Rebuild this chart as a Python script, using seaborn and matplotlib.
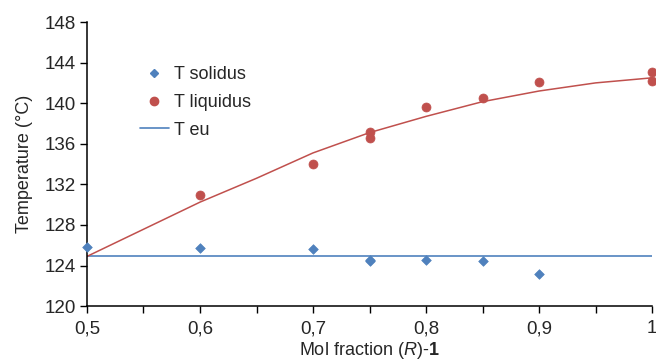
"""
Binary phase diagram: solidus / liquidus temperatures vs mol fraction.
Run: python plot.py
"""

import numpy as np
import pandas as pd
import matplotlib
matplotlib.use("Agg")
import matplotlib.pyplot as plt
from matplotlib.ticker import MultipleLocator, FuncFormatter
from matplotlib.lines import Line2D
import seaborn as sns

# ── Data ───────────────────────────────────────────────────────────────────
sol_x = [0.5, 0.6, 0.7, 0.75, 0.75, 0.8, 0.85, 0.9]
sol_y = [125.8, 125.7, 125.6, 124.4, 124.5, 124.5, 124.4, 123.2]

liq_x = [0.6, 0.7, 0.75, 0.75, 0.8, 0.85, 0.9, 1.0, 1.0]
liq_y = [131.0, 134.0, 137.2, 136.6, 139.6, 140.5, 142.1, 143.1, 142.2]

curve_x = [0.5, 0.6, 0.65, 0.7, 0.75, 0.8, 0.85, 0.9, 0.95, 1.0]
curve_y = [124.9, 130.25, 132.6, 135.1, 137.1, 138.7, 140.15, 141.2, 142.0, 142.5]

teu_x = [0.5, 1.0]
teu_y = [124.9, 124.9]

BLUE = "#4F81BD"
RED = "#C0504D"

# ── Style ──────────────────────────────────────────────────────────────────
sns.set_style("ticks")
plt.rcParams['font.family'] = ['Liberation Sans', 'DejaVu Sans']
plt.rcParams['mathtext.fontset'] = 'custom'
plt.rcParams['mathtext.rm'] = 'Liberation Sans'
plt.rcParams['mathtext.it'] = 'Liberation Sans:italic'
plt.rcParams['mathtext.bf'] = 'Liberation Sans:bold'

fig = plt.figure(figsize=(6.56, 3.61), dpi=100)
ax = fig.add_axes([0.1326, 0.152, 0.8614, 0.787])

sol = pd.DataFrame({'x': sol_x, 'y': sol_y})
liq = pd.DataFrame({'x': liq_x, 'y': liq_y})
crv = pd.DataFrame({'x': curve_x, 'y': curve_y})
teu = pd.DataFrame({'x': teu_x, 'y': teu_y})

sns.lineplot(data=teu, x='x', y='y', ax=ax, color=BLUE, lw=1.2, sort=False)
sns.lineplot(data=crv, x='x', y='y', ax=ax, color=RED, lw=1.1, sort=False)
sns.scatterplot(data=sol, x='x', y='y', ax=ax, marker='D', s=24, color=BLUE,
                edgecolor=BLUE, linewidth=0.5, clip_on=False, zorder=3)
sns.scatterplot(data=liq, x='x', y='y', ax=ax, marker='o', s=42, color=RED,
                edgecolor=RED, linewidth=0.5, clip_on=False, zorder=3)

# ── Axes ───────────────────────────────────────────────────────────────────
ax.set_xlim(0.5, 1.0)
ax.set_ylim(120, 148)
ax.xaxis.set_major_locator(MultipleLocator(0.1))
ax.xaxis.set_minor_locator(MultipleLocator(0.05))
ax.yaxis.set_major_locator(MultipleLocator(4))
ax.xaxis.set_major_formatter(FuncFormatter(lambda v, p: f"{v:g}".replace('.', ',')))
ax.tick_params(axis='both', which='both', direction='out', length=5, width=1,
               labelsize=13.5, color='black', pad=3)
ax.tick_params(axis='x', which='major', pad=5)
for s in ['left', 'bottom']:
    ax.spines[s].set_linewidth(1.1)
    ax.spines[s].set_color('black')
sns.despine(ax=ax)

ax.set_xlabel(r"Mol fraction ($\mathit{R}$)-$\mathbf{1}$", fontsize=13, labelpad=2)
ax.set_ylabel("Temperature (°C)", fontsize=13, labelpad=8)

# ── Legend ─────────────────────────────────────────────────────────────────
handles = [
    Line2D([], [], ls='none', marker='D', ms=4.5, color=BLUE),
    Line2D([], [], ls='none', marker='o', ms=6, color=RED),
    Line2D([], [], color=BLUE, lw=1.2),
]
ax.legend(handles, ['T solidus', 'T liquidus', 'T eu'], loc='upper left',
          bbox_to_anchor=(0.065, 0.902), frameon=False, fontsize=13,
          handlelength=1.6, handletextpad=0.3, labelspacing=0.6)

fig.savefig("out.png", dpi=100)
